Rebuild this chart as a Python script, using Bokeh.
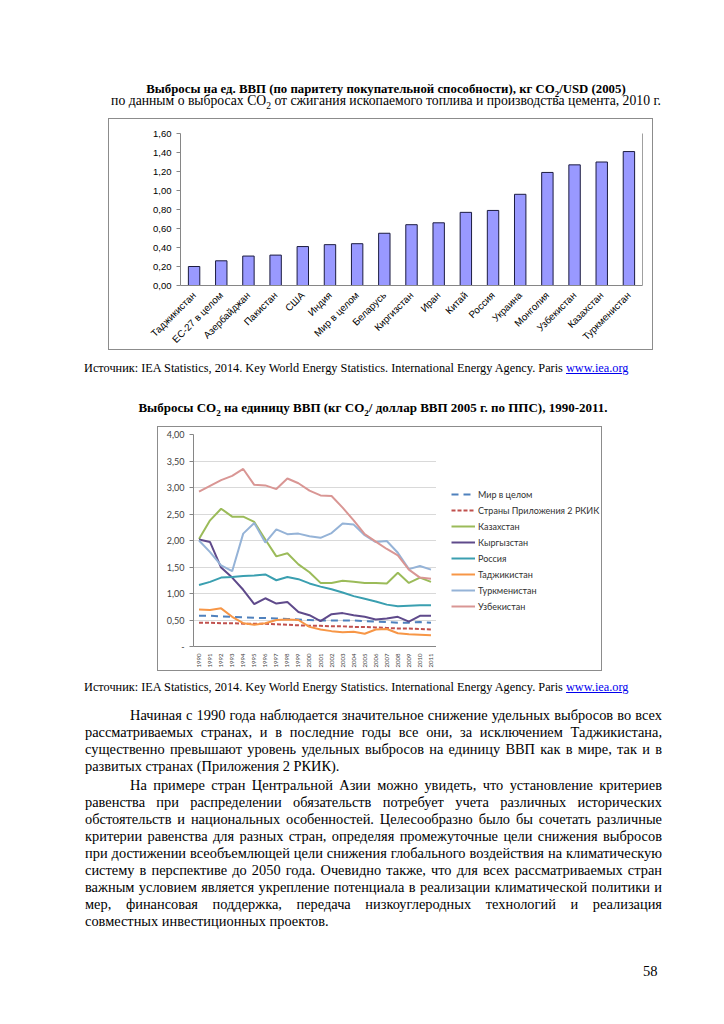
from math import pi
from bokeh.plotting import figure
from bokeh.models import (FactorRange, Range1d, Div, FixedTicker, CustomJSTickFormatter,
                          Legend, LegendItem, LinearAxis)
from bokeh.layouts import column, row
from bokeh.embed import file_html
from bokeh.resources import INLINE

# ---------------- data ----------------
bar_countries = ["Таджикистан", "ЕС-27 в целом", "Азербайджан", "Пакистан", "США", "Индия",
                 "Мир в целом", "Беларусь", "Киргизстан", "Иран", "Китай", "Россия", "Украина",
                 "Монголия", "Узбекистан", "Казахстан", "Туркменистан"]
bar_values = [0.20, 0.26, 0.31, 0.32, 0.41, 0.43, 0.44, 0.55, 0.64, 0.66, 0.77, 0.79, 0.96,
              1.19, 1.27, 1.30, 1.41]
bar_ticks = [0.0, 0.2, 0.4, 0.6, 0.8, 1.0, 1.2, 1.4, 1.6]

years = ["1990", "1991", "1992", "1993", "1994", "1995", "1996", "1997", "1998", "1999", "2000",
         "2001", "2002", "2003", "2004", "2005", "2006", "2007", "2008", "2009", "2010", "2011"]
world = [0.58, 0.58, 0.57, 0.56, 0.55, 0.54, 0.54, 0.53, 0.52, 0.51, 0.50,
         0.49, 0.49, 0.49, 0.49, 0.48, 0.47, 0.46, 0.45, 0.45, 0.46, 0.45]
annex2 = [0.45, 0.45, 0.44, 0.44, 0.43, 0.43, 0.43, 0.42, 0.41, 0.40, 0.39,
          0.39, 0.38, 0.38, 0.37, 0.37, 0.36, 0.35, 0.34, 0.34, 0.33, 0.32]
kazakhstan = [2.03, 2.38, 2.60, 2.45, 2.45, 2.35, 2.02, 1.70, 1.76, 1.55, 1.40,
              1.20, 1.20, 1.24, 1.22, 1.20, 1.20, 1.19, 1.39, 1.20, 1.30, 1.22]
kyrgyzstan = [2.02, 1.97, 1.49, 1.30, 1.07, 0.80, 0.91, 0.81, 0.84, 0.65, 0.59,
              0.48, 0.61, 0.63, 0.59, 0.56, 0.51, 0.53, 0.56, 0.47, 0.58, 0.58]
russia = [1.16, 1.22, 1.30, 1.31, 1.33, 1.34, 1.36, 1.25, 1.31, 1.27, 1.19,
          1.13, 1.08, 1.02, 0.95, 0.90, 0.85, 0.79, 0.76, 0.77, 0.78, 0.78]
tajikistan = [0.70, 0.69, 0.72, 0.56, 0.44, 0.41, 0.44, 0.50, 0.51, 0.50, 0.37,
              0.32, 0.29, 0.27, 0.28, 0.24, 0.32, 0.33, 0.25, 0.23, 0.22, 0.21]
turkmenistan = [2.00, 1.78, 1.53, 1.42, 2.13, 2.33, 1.96, 2.21, 2.12, 2.13, 2.08,
                2.05, 2.14, 2.32, 2.30, 2.10, 1.97, 1.99, 1.77, 1.46, 1.52, 1.45]
uzbekistan = [2.92, 3.03, 3.14, 3.22, 3.35, 3.05, 3.04, 2.97, 3.17, 3.08, 2.94,
              2.85, 2.84, 2.62, 2.38, 2.12, 1.98, 1.84, 1.72, 1.45, 1.30, 1.28]
line_ticks = [0.0, 0.5, 1.0, 1.5, 2.0, 2.5, 3.0, 3.5, 4.0]

series_names = ["Мир в целом", "Страны Приложения 2 РКИК", "Казахстан", "Кыргызстан",
                "Россия", "Таджикистан", "Туркменистан", "Узбекистан"]
series_values = [world, annex2, kazakhstan, kyrgyzstan, russia, tajikistan, turkmenistan, uzbekistan]
series_colors = ["#4F81BD", "#C0504D", "#9BBB59", "#5F4A8B", "#3A9FB0", "#F79646", "#95B3D7", "#D99694"]
series_dash = ["7 5", "4 2", "solid", "solid", "solid", "solid", "solid", "solid"]

SERIF = "'Liberation Serif', 'Times New Roman', serif"
W = 720
NAN = float("nan")

# ---------------- bar chart ----------------
p1 = figure(x_range=FactorRange(factors=bar_countries, range_padding=0), y_range=Range1d(0, 1.6),
            width=545, height=232, output_backend="svg", toolbar_location=None,
            min_border_left=71, min_border_right=12, min_border_top=14, min_border_bottom=57,
            styles={"border": "1px solid #8c8c8c"})
p1.vbar(x=bar_countries, top=bar_values, width=0.42, fill_color="#9999FF",
        line_color="#1c1c40", line_width=1)
p1.xgrid.visible = False
p1.ygrid.visible = False
p1.outline_line_color = None
p1.yaxis.ticker = FixedTicker(ticks=bar_ticks)
p1.yaxis.formatter = CustomJSTickFormatter(code="return tick.toFixed(2).replace('.', ',');")
for ax in (p1.xaxis[0], p1.yaxis[0]):
    ax.axis_line_color = "#868686"
    ax.major_tick_line_color = "#868686"
    ax.minor_tick_line_color = None
    ax.major_tick_out = 4
    ax.major_tick_in = 0
    ax.major_label_text_font = "Liberation Sans"
    ax.major_label_text_color = "#000000"
p1.yaxis.major_label_text_font_size = "9.5px"
p1.xaxis.major_label_text_font_size = "9.8px"
p1.xaxis.major_label_orientation = pi / 4
p1.xaxis.major_tick_line_color = None
p1.xaxis.major_label_standoff = 4
right_ax = LinearAxis(axis_line_color="#a0a0a0", major_tick_line_color=None,
                      minor_tick_line_color=None, major_label_text_font_size="0px",
                      major_label_standoff=0, major_tick_out=0)
p1.add_layout(right_ax, "right")

# ---------------- line chart ----------------
p2 = figure(x_range=FactorRange(factors=years, range_padding=0), y_range=Range1d(0, 4),
            width=278, height=243, output_backend="svg", toolbar_location=None,
            min_border_left=35, min_border_right=0, min_border_top=7, min_border_bottom=23)
for name, vals, col, dash in zip(series_names, series_values, series_colors, series_dash):
    p2.line(x=years, y=vals, line_color=col, line_width=2, line_dash=dash)
p2.xgrid.visible = False
p2.ygrid.grid_line_color = "#d9d9d9"
p2.ygrid.ticker = FixedTicker(ticks=line_ticks)
p2.outline_line_color = None
p2.yaxis.ticker = FixedTicker(ticks=line_ticks)
p2.yaxis.formatter = CustomJSTickFormatter(
    code="return tick == 0 ? '-' : tick.toFixed(2).replace('.', ',');")
for ax in (p2.xaxis[0], p2.yaxis[0]):
    ax.axis_line_color = "#868686"
    ax.major_tick_line_color = "#868686"
    ax.minor_tick_line_color = None
    ax.major_tick_out = 4
    ax.major_tick_in = 0
    ax.major_label_text_font = "Lato"
    ax.major_label_text_color = "#404040"
p2.yaxis.major_label_text_font_size = "9px"
p2.xaxis.major_label_text_font_size = "6px"
p2.xaxis.major_label_orientation = pi / 2
p2.xaxis.major_tick_line_color = None
p2.xaxis.major_label_standoff = 3

# legend drawn in a companion figure that continues the chart area to the right
pleg = figure(x_range=Range1d(0, 1), y_range=Range1d(0, 1), width=165, height=243,
              output_backend="svg", toolbar_location=None, x_axis_type=None, y_axis_type=None,
              min_border=0, outline_line_color=None)
items = []
for name, col, dash in zip(series_names, series_colors, series_dash):
    r = pleg.line(x=[NAN], y=[NAN], line_color=col, line_width=2, line_dash=dash)
    items.append(LegendItem(label=name, renderers=[r]))
legend = Legend(items=items, location=(15, 34), padding=0, spacing=4, glyph_width=24,
                glyph_height=12, label_height=12, label_standoff=3, margin=0,
                label_text_font="Lato", label_text_font_size="9px", label_text_color="#303030",
                border_line_color=None, background_fill_alpha=0)
pleg.add_layout(legend)

# ---------------- text blocks ----------------
SUB = '<sub style="font-size:0.7em;line-height:0">2</sub>'


def pos(top, left, inner, extra=""):
    return (f'<div style="position:absolute;top:{top}px;left:{left}px;white-space:nowrap;{extra}">'
            f'{inner}</div>')


div_a_html = (
    f'<div style="position:relative;width:{W}px;height:118px;font-family:{SERIF};color:#000;">'
    + pos(83, 86, f'Выбросы на ед. ВВП (по паритету покупательной способности), кг CO{SUB}/USD (2005)',
          "width:600px;text-align:center;font-size:12.8px;line-height:12.8px;font-weight:bold;")
    + pos(94, 86, f'по данным о выбросах CO{SUB} от сжигания ископаемого топлива и производства цемента, 2010 г.',
          "width:600px;text-align:center;font-size:13.7px;line-height:13.7px;")
    + '</div>')
div_a = Div(text=div_a_html, width=W, height=118, margin=0)

source_html = ('Источник: IEA Statistics, 2014. Key World Energy Statistics. International Energy Agency. Paris '
               '<span style="color:#0000EE;text-decoration:underline;">www.iea.org</span>')

div_b_html = (
    f'<div style="position:relative;width:{W}px;height:74px;font-family:{SERIF};color:#000;">'
    + pos(10, 84, source_html, "font-size:12.3px;line-height:12.3px;")
    + pos(49, 73, f'Выбросы CO{SUB} на единицу ВВП (кг CO{SUB}/ доллар ВВП 2005 г. по ППС), 1990-2011.',
          "width:600px;text-align:center;font-size:13px;line-height:13px;font-weight:bold;")
    + '</div>')
div_b = Div(text=div_b_html, width=W, height=74, margin=0)

para1 = [
    "Начиная с 1990 года наблюдается значительное снижение удельных выбросов во всех",
    "рассматриваемых странах, и в последние годы все они, за исключением Таджикистана,",
    "существенно превышают уровень удельных выбросов на единицу ВВП как в мире, так и в",
    "развитых странах (Приложения 2 РКИК).",
]
para2 = [
    "На примере стран Центральной Азии можно увидеть, что установление критериев",
    "равенства при распределении обязательств потребует учета различных исторических",
    "обстоятельств и национальных особенностей. Целесообразно было бы сочетать различные",
    "критерии равенства для разных стран, определяя промежуточные цели снижения выбросов",
    "при достижении всеобъемлющей цели снижения глобального воздействия на климатическую",
    "систему в перспективе до 2050 года. Очевидно также, что для всех рассматриваемых стран",
    "важным условием является укрепление потенциала в реализации климатической политики и",
    "мер, финансовая поддержка, передача низкоуглеродных технологий и реализация",
    "совместных инвестиционных проектов.",
]


def para_lines(lines, top0):
    out = ""
    for i, ln in enumerate(lines):
        indent = 45 if i == 0 else 0
        last = i == len(lines) - 1
        align = "text-align:left;" if last else "text-align:justify;text-align-last:justify;"
        out += (f'<div style="position:absolute;top:{top0 + 17 * i}px;left:{85 + indent}px;'
                f'width:{577 - indent}px;white-space:nowrap;font-size:14.4px;line-height:14.4px;{align}">'
                f'{ln}</div>')
    return out


div_c_html = (
    f'<div style="position:relative;width:{W}px;height:335px;font-family:{SERIF};color:#000;">'
    + pos(10, 84, source_html, "font-size:12.3px;line-height:12.3px;")
    + para_lines(para1, 37)
    + para_lines(para2, 107)
    + pos(293, 643, "58", "font-size:14.5px;line-height:14.5px;")
    + '</div>')
div_c = Div(text=div_c_html, width=W, height=335, margin=0)

row1 = row(Div(text="", width=108, height=234, margin=0), p1, spacing=0, margin=0)
chart2 = row(p2, pleg, spacing=0, margin=0, styles={"border": "1px solid #8c8c8c"})
row2 = row(Div(text="", width=157, height=245, margin=0), chart2, spacing=0, margin=0)
page = column(div_a, row1, div_b, row2, div_c, spacing=0, margin=0)

open("out.html", "w").write(file_html(page, INLINE))
